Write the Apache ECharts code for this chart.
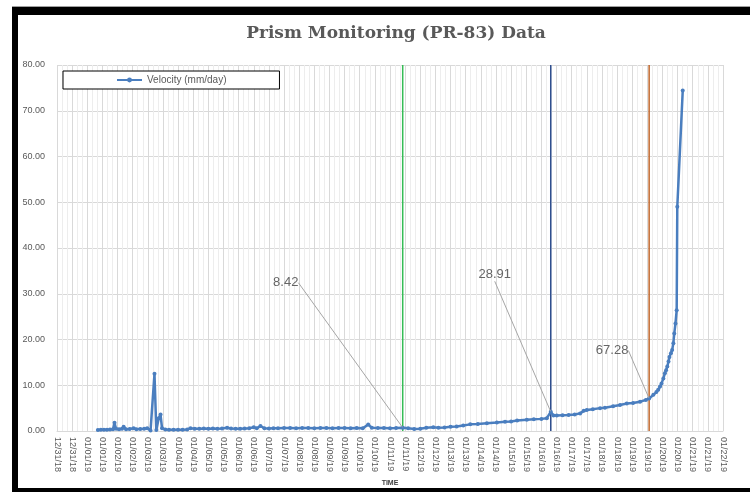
<!DOCTYPE html>
<html>
<head>
<meta charset="utf-8">
<script src="https://cdn.jsdelivr.net/npm/echarts@6/dist/echarts.min.js"></script>
<style>
html,body{margin:0;padding:0;background:#fff;}
#chart{width:750px;height:492px;}
</style>
</head>
<body>
<div id="chart"></div>
<script>
// Time in days since 12/31/18 00:00
const timeDays = [1.35,1.45,1.55,1.65,1.75,1.85,1.90,1.95,2.05,2.15,2.20,2.28,2.40,2.53,2.62,2.75,2.88,2.98,3.09,3.22,3.28,3.36,3.42,3.47,3.58,3.70,3.85,4.00,4.15,4.30,4.41,4.55,4.70,4.85,5.00,5.15,5.30,5.45,5.62,5.75,5.90,6.05,6.20,6.35,6.50,6.60,6.72,6.85,7.00,7.15,7.30,7.50,7.70,7.90,8.10,8.30,8.50,8.70,8.90,9.10,9.30,9.50,9.70,9.90,10.10,10.28,10.40,10.60,10.80,11.00,11.20,11.42,11.60,11.80,12.00,12.20,12.43,12.60,12.80,13.00,13.20,13.42,13.65,13.90,14.20,14.53,14.80,15.00,15.20,15.52,15.75,16.00,16.18,16.31,16.40,16.51,16.70,16.90,17.10,17.28,17.40,17.50,17.70,17.94,18.10,18.37,18.60,18.82,19.03,19.26,19.45,19.56,19.70,19.80,19.86,19.92,19.97,20.03,20.08,20.12,20.16,20.20,20.23,20.28,20.32,20.36,20.39,20.43,20.47,20.49,20.67];
const velocity = [0.2,0.25,0.3,0.3,0.35,0.4,1.8,0.5,0.4,0.5,0.95,0.4,0.45,0.6,0.4,0.45,0.5,0.6,0.1,12.5,0.2,2.8,3.6,0.6,0.35,0.3,0.3,0.25,0.3,0.35,0.6,0.5,0.5,0.55,0.5,0.55,0.5,0.55,0.7,0.55,0.5,0.5,0.55,0.6,0.8,0.6,1.1,0.6,0.55,0.6,0.6,0.65,0.65,0.6,0.65,0.65,0.6,0.65,0.65,0.6,0.65,0.65,0.6,0.65,0.6,1.4,0.7,0.65,0.65,0.6,0.65,0.73,0.6,0.45,0.5,0.7,0.8,0.7,0.75,0.95,1.0,1.2,1.45,1.55,1.7,1.85,2.0,2.1,2.3,2.45,2.55,2.65,2.8,4.2,3.4,3.4,3.45,3.5,3.6,3.85,4.4,4.6,4.75,5.0,5.1,5.4,5.7,6.0,6.1,6.4,6.8,7.1,7.9,8.5,9.0,9.7,10.4,11.5,12.6,13.3,14.1,15.2,16.2,17.0,17.7,19.2,21.3,23.5,26.4,49.0,74.4];

// Vertical marker lines (days) and annotations
const markerDays = [11.42, 16.31, 19.56];
const markerColors = ['#35BC55', '#2E4E8E', '#C0652A'];
const annoDays = [11.42, 16.31, 19.56];
const annoValues = [0.73, 4.2, 7.1];
const annoLabels = ['8.42', '28.91', '67.28'];

const tickLabels = [];
(function(){
  const names = ['12/31/18'];
  for (let d = 1; d <= 22; d++) names.push('01/' + String(d).padStart(2,'0') + '/19');
  for (let i = 0; i < names.length; i++) {
    tickLabels.push(names[i]);
    if (i < names.length - 1) tickLabels.push(names[i]);
  }
})();

const yTicks = {min: 0, max: 80, interval: 10};

const chart = echarts.init(document.getElementById('chart'), null, {renderer: 'canvas'});
const font = 'Liberation Sans, Arial, sans-serif';

const series = [{
  name: 'Velocity (mm/day)',
  type: 'line',
  data: timeDays.map((t, i) => [t, velocity[i]]),
  symbol: 'circle',
  symbolSize: 4,
  showAllSymbol: true,
  lineStyle: {color: '#4A7EBF', width: 2.5},
  itemStyle: {color: '#4A7EBF'},
  z: 5
}];
markerDays.forEach((d, i) => {
  series.push({
    name: 'marker' + i,
    type: 'line',
    data: [[d, yTicks.min], [d, yTicks.max]],
    symbol: 'none',
    lineStyle: {color: markerColors[i], width: 1.5},
    z: 4,
    silent: true
  });
});
const labelOffsets = [[-117, -145], [-56, -137], [-37, -48]];
series.push({
  name: 'annotations',
  type: 'scatter',
  data: annoDays.map((d, i) => ({value: [d, annoValues[i]], name: annoLabels[i]})),
  symbolSize: 1,
  itemStyle: {color: 'rgba(0,0,0,0)'},
  label: {
    show: true,
    position: 'inside',
    formatter: p => p.name,
    color: '#404040',
    fontSize: 13,
    fontFamily: font
  },
  labelLine: {show: true, lineStyle: {color: '#A6A6A6', width: 1}},
  labelLayout: function(params) {
    const o = labelOffsets[params.dataIndex];
    return {dx: o[0], dy: o[1]};
  },
  z: 6,
  silent: true
});

chart.setOption({
  backgroundColor: '#ffffff',
  animation: false,
  title: {
    text: 'Prism Monitoring (PR-83) Data',
    left: 391,
    top: 20,
    textAlign: 'center',
    textStyle: {fontFamily: 'DejaVu Serif, serif', fontWeight: 'bold', fontSize: 17, color: '#595959'}
  },
  legend: {
    data: ['Velocity (mm/day)'],
    left: 63,
    top: 71,
    padding: [4, 53, 4, 53],
    borderColor: '#000',
    borderWidth: 1,
    backgroundColor: '#fff',
    itemWidth: 25,
    itemHeight: 6,
    itemGap: 5,
    textStyle: {fontFamily: font, fontSize: 10, color: '#595959'}
  },
  grid: {left: 57, right: 27, top: 65, bottom: 61, containLabel: false},
  xAxis: {
    type: 'value',
    min: 0,
    max: 22,
    interval: 0.5,
    name: 'TIME',
    nameLocation: 'middle',
    nameGap: 49,
    nameTextStyle: {fontFamily: font, fontSize: 7, fontWeight: 'bold', color: '#404040'},
    axisLine: {show: true, lineStyle: {color: '#D9D9D9'}},
    axisTick: {show: false},
    axisLabel: {
      rotate: -90,
      fontSize: 9,
      fontFamily: font,
      color: '#595959',
      margin: 6,
      showMinLabel: true,
      showMaxLabel: true,
      formatter: v => tickLabels[Math.round(v * 2)] || ''
    },
    splitLine: {show: true, lineStyle: {color: '#D9D9D9', width: 1}},
    minorTick: {show: false, splitNumber: 3},
    minorSplitLine: {show: true, lineStyle: {color: '#EDEDED', width: 1}}
  },
  yAxis: {
    type: 'value',
    min: yTicks.min,
    max: yTicks.max,
    interval: yTicks.interval,
    axisLine: {show: false},
    axisTick: {show: false},
    axisLabel: {fontSize: 9, fontFamily: font, color: '#595959', margin: 12, formatter: v => v.toFixed(2)},
    splitLine: {show: true, lineStyle: {color: '#D9D9D9', width: 1}}
  },
  graphic: [
    {type: 'rect', shape: {x: 12, y: 6, width: 738, height: 1}, style: {fill: '#A0A0A0'}, silent: true},
    {type: 'rect', shape: {x: 12, y: 7, width: 738, height: 8}, style: {fill: '#000'}, silent: true},
    {type: 'rect', shape: {x: 12, y: 7, width: 6, height: 485}, style: {fill: '#000'}, silent: true},
    {type: 'rect', shape: {x: 12, y: 488, width: 738, height: 4}, style: {fill: '#000'}, silent: true}
  ],
  series: series
});
</script>
</body>
</html>
